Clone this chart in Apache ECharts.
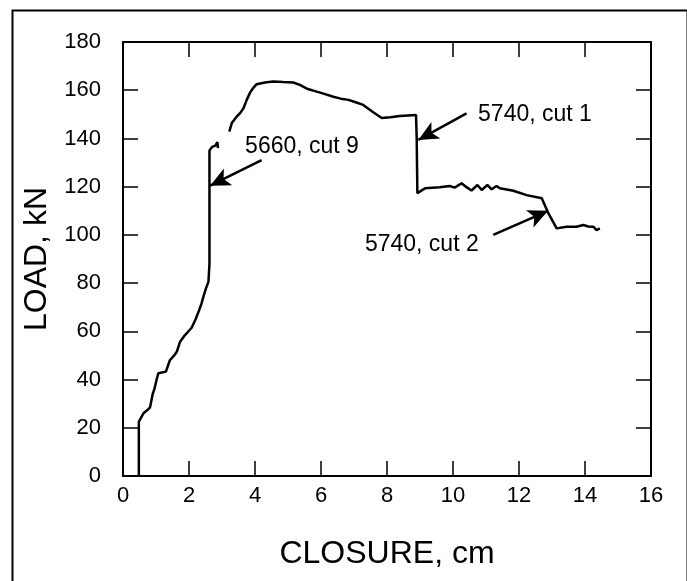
<!DOCTYPE html>
<html>
<head>
<meta charset="utf-8">
<script src="https://cdn.jsdelivr.net/npm/echarts@6/dist/echarts.min.js"></script>
<style>html,body{margin:0;padding:0;background:#fff;}#c{width:687px;height:581px;}</style>
</head>
<body>
<div id="c"></div>
<script>
// Data
var closure = [0.48,0.48,0.62,0.75,0.82,0.9,0.95,1.02,1.07,1.3,1.42,1.55,1.63,1.73,1.85,1.95,2.08,2.2,2.3,2.38,2.45,2.52,2.59,2.62,2.62,2.7,2.8,2.86,2.88,null,3.22,3.3,3.36,3.44,3.55,3.65,3.75,3.85,3.95,4.05,4.3,4.55,4.85,5.16,5.36,5.6,5.87,6.1,6.37,6.6,6.83,7.05,7.28,7.55,7.84,8.1,8.39,8.88,8.9,8.92,9.15,9.6,9.9,10.05,10.26,10.41,10.56,10.74,10.87,11.04,11.17,11.32,11.42,11.83,12.23,12.69,12.89,13.14,13.44,13.74,13.95,14.1,14.25,14.35,14.45];
var load = [0,22.5,26,27.5,28.5,34,36,40,42.6,43.3,48,50,51.5,55.7,58,59.5,61.5,65,68.5,71.6,75,78,80.6,88,135,136.5,137,138.5,136,null,142.8,146.5,147.5,149,150.5,152.5,156,159,161,162.5,163.2,163.6,163.4,163.2,162.2,160.5,159.4,158.5,157.3,156.5,156,155,153.9,151.2,148.5,148.8,149.3,149.7,140,117.3,119.3,119.8,120.3,119.6,121.4,119.8,118.4,120.7,118.6,120.7,118.9,120.3,119.3,118.3,116.5,115.2,109,102.7,103.4,103.4,104.1,103.5,103.4,102,102.7];

var xTicks = [0,2,4,6,8,10,12,14,16];
var yTicks = [0,20,40,60,80,100,120,140,160,180];

var noteText = ['5660, cut 9', '5740, cut 1', '5740, cut 2'];
var noteX = [3.70, 10.76, 7.33];
var noteY = [136.5, 149.7, 96];
var arrowTailX = [4.2, 10.41, 11.22];
var arrowTailY = [131, 150.4, 100];
var arrowTipX = [2.64, 8.95, 12.88];
var arrowTipY = [120.4, 139.4, 110];

var FONT = 'Liberation Sans';
var lineData = closure.map(function (c, i) { return c === null ? [null, null] : [c, load[i]]; });
var noteData = noteText.map(function (t, i) { return { value: [noteX[i], noteY[i]], name: t }; });
var arrows = arrowTailX.map(function (x, i) {
  return [{ coord: [x, arrowTailY[i]] }, { coord: [arrowTipX[i], arrowTipY[i]] }];
});

var axisCommon = {
  type: 'value',
  axisLine: { show: true, onZero: false, lineStyle: { color: '#000', width: 2 } },
  axisTick: { show: true, inside: true, length: 15, lineStyle: { color: '#000', width: 1.5 } },
  splitLine: { show: false }
};

var chart = echarts.init(document.getElementById('c'), null, { renderer: 'canvas' });
chart.setOption({
  animation: false,
  backgroundColor: '#fff',
  grid: { left: 123, right: 36, top: 42, bottom: 105 },
  graphic: [{
    type: 'rect', left: 10, top: 8, z: 100,
    shape: { x: 0, y: 0, width: 675, height: 600 },
    style: { fill: 'none', stroke: '#000', lineWidth: 2 }
  }],
  xAxis: [
    Object.assign({}, axisCommon, {
      position: 'bottom', min: xTicks[0], max: xTicks[xTicks.length - 1], interval: 2,
      name: 'CLOSURE, cm', nameLocation: 'middle', nameGap: 62,
      nameTextStyle: { fontFamily: FONT, fontSize: 32, color: '#000' },
      axisLabel: { margin: 9, fontFamily: FONT, fontSize: 22, color: '#000' }
    }),
    Object.assign({}, axisCommon, {
      position: 'top', min: xTicks[0], max: xTicks[xTicks.length - 1], interval: 2,
      axisLabel: { show: false }
    })
  ],
  yAxis: [
    Object.assign({}, axisCommon, {
      position: 'left', min: yTicks[0], max: yTicks[yTicks.length - 1], interval: 20,
      name: 'LOAD, kN', nameLocation: 'middle', nameGap: 70,
      nameTextStyle: { fontFamily: FONT, fontSize: 32, color: '#000' },
      axisLabel: { margin: 22, fontFamily: FONT, fontSize: 22, color: '#000' }
    }),
    Object.assign({}, axisCommon, {
      position: 'right', min: yTicks[0], max: yTicks[yTicks.length - 1], interval: 20,
      axisLabel: { show: false }
    })
  ],
  series: [
    {
      type: 'line', data: lineData, showSymbol: false, connectNulls: false,
      lineStyle: { color: '#000', width: 2.5 },
      markLine: {
        silent: true, symbol: ['none', 'arrow'], symbolSize: [14, 20],
        label: { show: false },
        lineStyle: { color: '#000', width: 2.5, type: 'solid', opacity: 1 },
        itemStyle: { color: '#000' },
        data: arrows
      }
    },
    {
      type: 'scatter', data: noteData, symbolSize: 0, silent: true,
      itemStyle: { color: '#000', opacity: 1 },
      label: {
        show: true, position: 'right', distance: 0, opacity: 1,
        formatter: function (p) { return p.name; },
        fontFamily: FONT, fontSize: 23, color: '#000'
      }
    }
  ]
});
</script>
</body>
</html>
